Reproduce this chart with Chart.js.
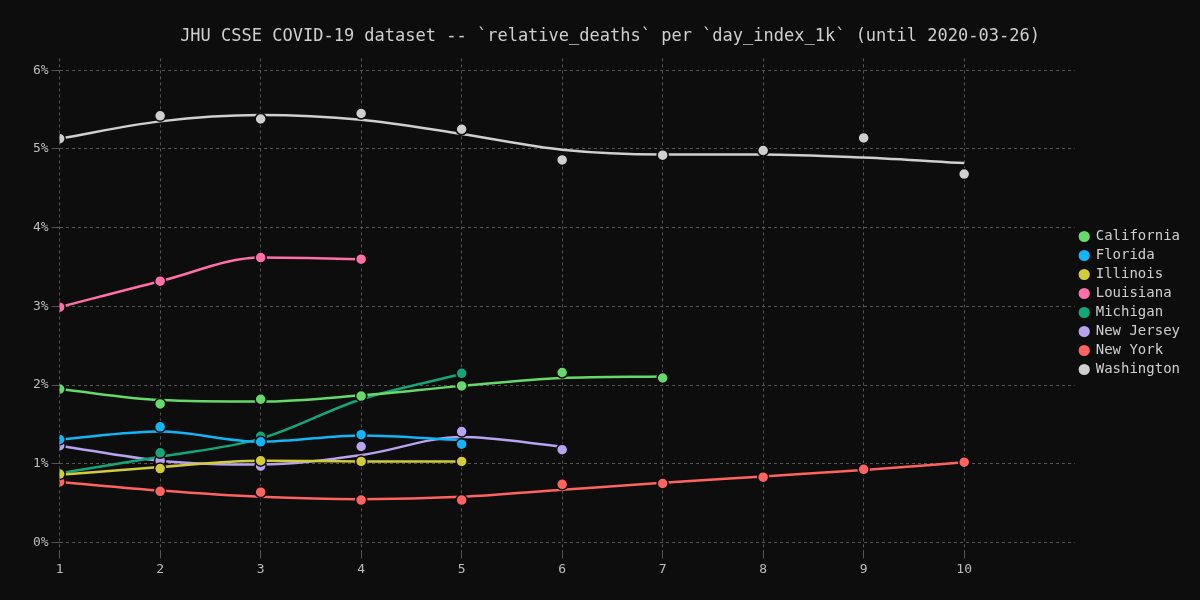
<!DOCTYPE html>
<html><head><meta charset="utf-8">
<script src="https://cdn.jsdelivr.net/npm/chart.js@4"></script>
<style>html,body{margin:0;background:#0d0d0d}#wrap{width:1200px;height:600px}</style>
</head><body><div id="wrap"><canvas id="c"></canvas></div>
<script>
const states = ['California','Florida','Illinois','Louisiana','Michigan','New Jersey','New York','Washington'];
const colors = ['#66d96a','#12b5f5','#d2cc3a','#ff6fa8','#14a67a','#b9a3f0','#ff6361','#cfcfcf'];
// measured points (percent), index = day 1..n
const californiaPts = [1.95,1.76,1.82,1.86,1.99,2.16,2.09];
const floridaPts = [1.31,1.47,1.28,1.37,1.25];
const illinoisPts = [0.87,0.94,1.04,1.03,1.03];
const louisianaPts = [2.99,3.32,3.62,3.60];
const michiganPts = [0.88,1.14,1.35,1.86,2.15];
const newJerseyPts = [1.23,1.04,0.97,1.22,1.41,1.18];
const newYorkPts = [0.77,0.65,0.64,0.54,0.54,0.74,0.75,0.83,0.93,1.02];
const washingtonPts = [5.13,5.42,5.38,5.45,5.25,4.86,4.92,4.98,5.14,4.68];
// smoothed trend lines
const californiaFit = [1.95,1.81,1.79,1.87,1.99,2.09,2.11];
const floridaFit = [1.31,1.41,1.28,1.36,1.30];
const illinoisFit = [0.86,0.96,1.04,1.03,1.03];
const louisianaFit = [2.99,3.32,3.62,3.60];
const michiganFit = [0.88,1.09,1.32,1.82,2.14];
const newJerseyFit = [1.23,1.04,0.99,1.11,1.34,1.22];
const newYorkFit = [0.77,0.66,0.58,0.55,0.58,0.67,0.76,0.84,0.92,1.02];
const washingtonFit = [5.13,5.35,5.43,5.37,5.19,4.99,4.93,4.93,4.89,4.82];
const yTicks = [0,1,2,3,4,5,6];

const pts = [californiaPts,floridaPts,illinoisPts,louisianaPts,michiganPts,newJerseyPts,newYorkPts,washingtonPts];
const fits = [californiaFit,floridaFit,illinoisFit,louisianaFit,michiganFit,newJerseyFit,newYorkFit,washingtonFit];
const xy = a => a.map((v,i) => ({x:i+1, y:v}));

const datasets = [];
states.forEach((s,i) => {
  datasets.push({label:s, data:xy(pts[i]), showLine:false, backgroundColor:colors[i],
    borderColor:'#0d0d0d', borderWidth:1.5, pointRadius:5.5, order:1});
});
states.forEach((s,i) => {
  datasets.push({label:'_'+s, data:xy(fits[i]), showLine:true, borderColor:colors[i],
    borderWidth:2.5, pointRadius:0, tension:0.4, cubicInterpolationMode:'monotone', order:2});
});

Chart.defaults.font.family = 'DejaVu Sans Mono';
Chart.defaults.color = '#bdbdbd';
new Chart(document.getElementById('c'), {
  type:'scatter',
  data:{datasets},
  options:{
    responsive:true, maintainAspectRatio:false, animation:false,
    layout:{padding:{left:30,right:10,top:26,bottom:20}},
    plugins:{
      title:{display:true, text:'JHU CSSE COVID-19 dataset -- `relative_deaths` per `day_index_1k` (until 2020-03-26)',
        font:{size:17, weight:'normal'}, color:'#cfcfcf', padding:{bottom:12}},
      legend:{position:'right', labels:{filter:it => !it.text.startsWith('_'), usePointStyle:true,
        pointStyle:'circle', boxWidth:9, boxHeight:9, font:{size:14}, color:'#cfcfcf', padding:5}},
      tooltip:{enabled:false}
    },
    scales:{
      x:{min:1, max:11.1, grid:{color:'#555'}, border:{display:false, dash:[3,3]},
        afterBuildTicks:ax => { ax.ticks = [1,2,3,4,5,6,7,8,9,10].map(v => ({value:v})); },
        ticks:{font:{size:13}}},
      y:{min:-0.1, max:6.15, grid:{color:'#555'}, border:{display:false, dash:[3,3]},
        afterBuildTicks:ax => { ax.ticks = yTicks.map(v => ({value:v})); },
        ticks:{font:{size:13}, callback:v => v + '%'}}
    }
  }
});
</script></body></html>
